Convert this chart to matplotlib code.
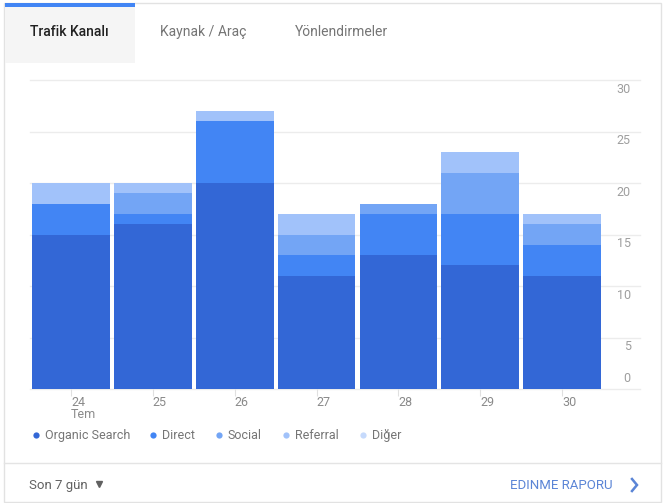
import matplotlib.pyplot as plt
from matplotlib.patches import Rectangle

W, H = 669, 503

days = ['24', '25', '26', '27', '28', '29', '30']
organic = [15, 16, 20, 11, 13, 12, 11]
direct = [3, 1, 6, 2, 4, 5, 3]
social = [0, 2, 0, 2, 1, 4, 2]
referral = [2, 1, 1, 2, 0, 2, 1]
diger = [0, 0, 0, 0, 0, 0, 0]

series_names = ['Organic Search', 'Direct', 'Social', 'Referral', 'Diğer']
colors = ['#3367d6', '#4285f4', '#73a5f5', '#a1c2fa', '#c6dafc']
y_ticks = [0, 5, 10, 15, 20, 25, 30]

plt.rcParams['font.family'] = ['Roboto', 'DejaVu Sans']


def draw_card(bg):
    # card outline, tabs and footer, in pixel coords
    bg.add_patch(Rectangle((4, 3), 657, 499, facecolor='white',
                           edgecolor='#e2e2e2', lw=1))
    bg.add_patch(Rectangle((5, 7), 130, 56, facecolor='#f5f5f5', lw=0))
    bg.add_patch(Rectangle((5, 3), 130, 4, facecolor='#4285f4', lw=0))
    bg.plot([4, 661], [463, 463], color='#e4e4e4', lw=1)

    bg.text(30, 36, 'Trafik Kanalı', fontsize=10, color='#212121',
            fontweight='medium', va='baseline')
    bg.text(160, 36, 'Kaynak / Araç', fontsize=10, color='#757575', va='baseline')
    bg.text(295, 36, 'Yönlendirmeler', fontsize=10, color='#757575', va='baseline')

    bg.text(29, 489, 'Son 7 gün', fontsize=9.5, color='#616161', va='baseline')
    bg.plot([99], [484], marker='v', ms=5, color='#616161')
    bg.text(510, 489, 'EDINME RAPORU', fontsize=9.5, color='#5b85d6', va='baseline')
    bg.plot([632, 637, 632], [479, 485, 491], color='#5b85d6', lw=1.8,
            solid_joinstyle='miter')

    # legend
    xs = [36, 153, 219, 286, 363]
    for x, name, c in zip(xs, series_names, colors):
        bg.plot([x], [435], 'o', ms=4.5, color=c, mec='none')
        bg.text(x + 9, 439, name, fontsize=9, color='#757575', va='baseline')


def stacked_chart(ax):
    pos = list(range(len(days)))
    bottom = [0] * len(days)
    for vals, c in zip([organic, direct, social, referral, diger], colors):
        ax.bar(pos, vals, bottom=bottom, width=0.95, color=c, lw=0, zorder=2)
        bottom = [b + v for b, v in zip(bottom, vals)]

    ax.set_xlim(-0.5, 6.95)
    ax.set_ylim(0, 30)
    for t in y_ticks:
        ax.axhline(t, color='#ececec', lw=1, zorder=1, clip_on=False)
        if t == 0:
            ax.annotate(str(t), (0.985, t), xycoords=('axes fraction', 'data'),
                        xytext=(0, 3), textcoords='offset points',
                        ha='right', va='bottom', fontsize=9, color='#9e9e9e')
        else:
            ax.annotate(str(t), (0.985, t), xycoords=('axes fraction', 'data'),
                        xytext=(0, -2), textcoords='offset points',
                        ha='right', va='top', fontsize=9, color='#9e9e9e')

    ax.set_yticks([])
    ax.set_xticks(pos)
    ax.set_xticklabels(['24\nTem'] + days[1:], ha='left', linespacing=0.9)
    ax.tick_params(axis='x', length=5, color='#e0e0e0', labelsize=9,
                   labelcolor='#8a8a8a', pad=0)
    for s in ax.spines.values():
        s.set_visible(False)
    ax.set_facecolor('none')


if __name__ == '__main__':
    fig = plt.figure(figsize=(W / 100, H / 100), dpi=100)
    bg = fig.add_axes([0, 0, 1, 1], zorder=0)
    bg.set_xlim(0, W)
    bg.set_ylim(H, 0)
    bg.axis('off')
    draw_card(bg)

    ax = fig.add_axes([30 / W, (H - 389) / H, 610 / W, 309 / H], zorder=1)
    stacked_chart(ax)

    fig.savefig('out.png', dpi=100)
